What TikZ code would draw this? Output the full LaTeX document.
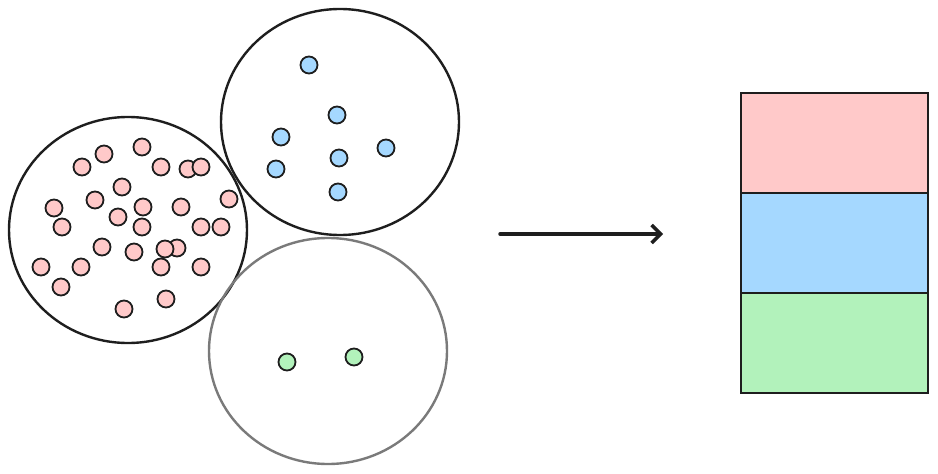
\documentclass[tikz,border=0pt]{standalone}
\usepackage{tikz}
\usetikzlibrary{arrows.meta,shapes.geometric,positioning}
\usepackage{xcolor}
\definecolor{ink}{HTML}{1E1E1E}
\definecolor{rose}{HTML}{FFC9C9}
\definecolor{sky}{HTML}{A5D8FF}
\definecolor{mint}{HTML}{B2F2BB}
\definecolor{ash}{HTML}{7A7A7A}
\tikzset{setring/.style={ellipse,draw=ink,line width=2.4pt,minimum width=238pt,minimum height=226pt,inner sep=0pt},dotmark/.style={draw=ink,line width=1.8pt},stackbox/.style={rectangle,draw=ink,line width=1.2pt,minimum width=187pt,minimum height=100pt,inner sep=0pt,outer sep=0pt},flowarrow/.style={draw=ink,line width=3.5pt,line cap=round,-{Straight Barb[length=9pt,width=18pt,line width=3.5pt]}}}

\begin{document}
\begin{tikzpicture}[x=1pt,y=-1pt]
\useasboundingbox (0,0) rectangle (938,474);
\node[setring] (redset) at (128,230) {};
\node[setring] (blueset) at (340,122) {};
\node[setring,draw=ash] (greenset) at (328,351) {};
\foreach \x/\y in {82/167,104/154,142/147,161/167,188/169,201/167,229/199,122/187,95/200,54/208,143/207,181/207,118/217,62/227,142/227,201/227,221/227,102/247,134/252,177/248,165/249,41/267,81/267,161/267,201/267,61/287,166/299,124/309}
  \draw[dotmark,fill=rose] (\x,\y) circle (8.5);
\foreach \x/\y in {309/65,337/115,281/137,386/148,339/158,276/169,338/192}
  \draw[dotmark,fill=sky] (\x,\y) circle (8.5);
\foreach \x/\y in {287/362,354/357}
  \draw[dotmark,fill=mint] (\x,\y) circle (8.5);
\coordinate (from) at (500,234);
\coordinate (to) at (663,234);
\draw[flowarrow] (from)--(to);
\node[stackbox,fill=rose] (redpart) at (834.5,143) {};
\node[stackbox,fill=sky,below=0pt of redpart] (bluepart) {};
\node[stackbox,fill=mint,below=0pt of bluepart] (greenpart) {};
\end{tikzpicture}
\end{document}
